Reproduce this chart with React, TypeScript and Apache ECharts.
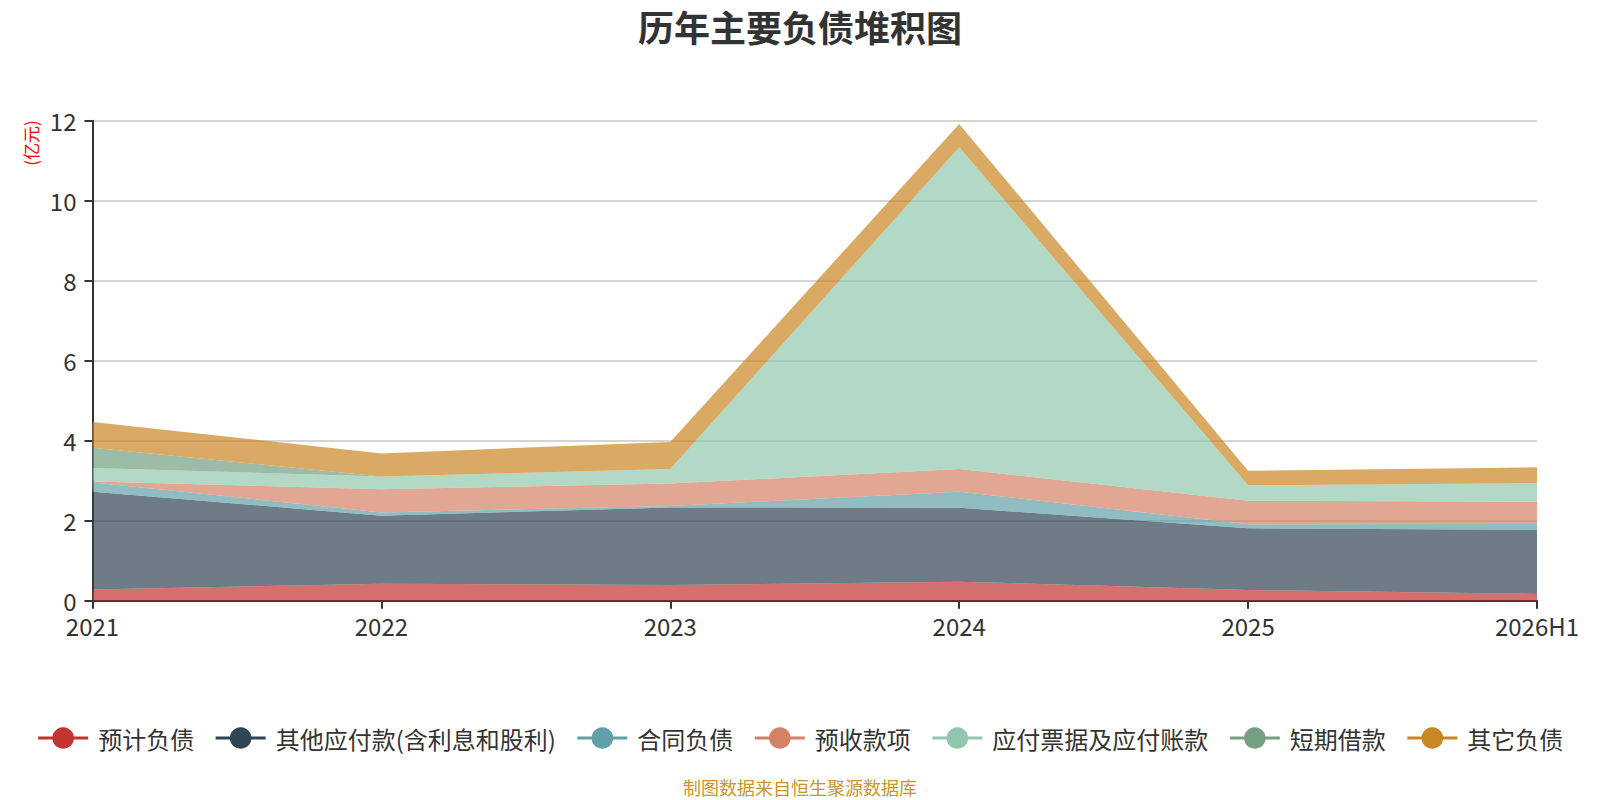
import React, { useEffect, useRef } from "react";
import * as echarts from "echarts";

const categories = ["2021", "2022", "2023", "2024", "2025", "2026H1"];
const seriesNames = [
  "预计负债",
  "其他应付款(含利息和股利)",
  "合同负债",
  "预收款项",
  "应付票据及应付账款",
  "短期借款",
  "其它负债",
];
const yujifuzhai = [0.28, 0.425, 0.39, 0.475, 0.27, 0.17];
const qitayingfu = [2.445, 1.7, 1.94, 1.85, 1.54, 1.6];
const hetongfuzhai = [0.233, 0.083, 0.04, 0.4, 0.1, 0.15];
const yushoukuan = [0.025, 0.58, 0.56, 0.565, 0.59, 0.555];
const yingfupiaoju = [0.333, 0.32, 0.36, 8.045, 0.385, 0.465];
const duanqijiekuan = [0.508, 0, 0, 0, 0, 0];
const qitafuzhai = [0.642, 0.575, 0.68, 0.585, 0.365, 0.395];
const colors = ["#c23531", "#2f4554", "#61a0a8", "#d48265", "#91c7ae", "#749f83", "#ca8622"];

const FONT = "'Noto Sans CJK SC', 'Noto Sans', sans-serif";

export default function App() {
  const ref = useRef<HTMLDivElement>(null);
  useEffect(() => {
    document.body.style.margin = "0";
    if (!ref.current) return;
    const chart = echarts.init(ref.current, null, { renderer: "svg" });
    const values = [yujifuzhai, qitayingfu, hetongfuzhai, yushoukuan, yingfupiaoju, duanqijiekuan, qitafuzhai];
    chart.setOption({
      animation: false,
      color: colors,
      textStyle: { fontFamily: FONT },
      title: {
        text: "历年主要负债堆积图",
        left: "center",
        top: 3,
        textStyle: { fontSize: 36, fontWeight: "bold", color: "#333", fontFamily: FONT },
      },
      legend: {
        data: seriesNames,
        left: "center",
        top: 721,
        itemWidth: 50,
        itemHeight: 27,
        itemGap: 20,
        lineStyle: { width: 3 },
        textStyle: { fontSize: 24, color: "#333", fontFamily: FONT, padding: [0, 0, 0, 5] },
      },
      grid: { left: 92.5, right: 63, top: 120.7, bottom: 199.3, containLabel: false },
      xAxis: {
        type: "category",
        data: categories,
        boundaryGap: false,
        axisLine: { lineStyle: { color: "#333", width: 2 } },
        axisTick: { length: 8, lineStyle: { color: "#333", width: 2 } },
        axisLabel: { fontSize: 24, lineHeight: 24, color: "#333", margin: 13, fontFamily: FONT },
      },
      yAxis: {
        type: "value",
        min: 0,
        max: 12,
        interval: 2,
        axisLine: { show: true, lineStyle: { color: "#333", width: 2 } },
        axisTick: { show: true, length: 8, lineStyle: { color: "#333", width: 2 } },
        axisLabel: { fontSize: 24, lineHeight: 20, color: "#333", margin: 16, fontFamily: FONT },
        splitLine: { lineStyle: { color: "#c6c6c6", width: 1.5 } },
      },
      graphic: [
        {
          type: "text",
          x: 30,
          y: 143,
          rotation: Math.PI / 2,
          style: { text: "(亿元)", fill: "#ff0000", fontSize: 17, fontFamily: FONT, align: "center", verticalAlign: "middle" },
        },
        {
          type: "text",
          x: 800,
          y: 787,
          style: { text: "制图数据来自恒生聚源数据库", fill: "#c8962a", fontSize: 18, fontFamily: FONT, align: "center", verticalAlign: "middle" },
        },
      ],
      series: seriesNames.map((name, i) => ({
        name,
        type: "line",
        stack: "total",
        data: values[i],
        showSymbol: false,
        symbol: "circle",
        lineStyle: { width: 0 },
        areaStyle: { opacity: 0.7 },
      })),
    });
    return () => chart.dispose();
  }, []);
  return <div ref={ref} style={{ width: 1600, height: 800 }} />;
}
